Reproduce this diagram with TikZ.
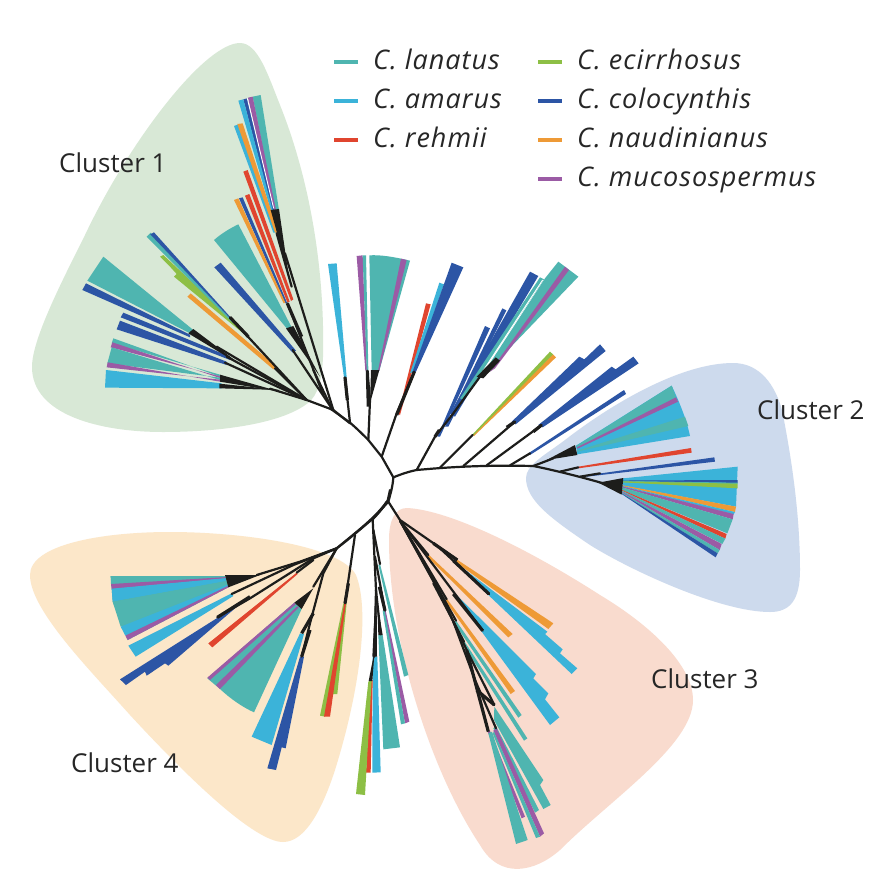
\documentclass[tikz,border=0pt]{standalone}
\usepackage{fontspec}
\setmainfont{Open Sans}
\usetikzlibrary{calc}
\definecolor{cT}{HTML}{4FB5B0}
\definecolor{cA}{HTML}{3BB3D9}
\definecolor{cR}{HTML}{E0452F}
\definecolor{cG}{HTML}{8DBF45}
\definecolor{cB}{HTML}{2C55A5}
\definecolor{cO}{HTML}{EE9A36}
\definecolor{cP}{HTML}{9B5BA5}
\definecolor{cK}{HTML}{1D1D1B}
\definecolor{bgG}{HTML}{D8E8D6}
\definecolor{bgB}{HTML}{CDDAED}
\definecolor{bgS}{HTML}{F9DBCE}
\definecolor{bgY}{HTML}{FCE7C9}
\tikzset{
 zA/.style={shift={(30,40)},scale=0.33333},
 zB/.style={shift={(320,240)},scale=0.33333},
 zC/.style={shift={(100,490)},scale=0.33333},
 zD/.style={shift={(340,490)},scale=0.33333},
 br/.style={draw=cK,line width=2.2pt,line join=round,line cap=round},
 brt/.style={draw=cK,line width=3.2pt,line join=round},
 tk/.style={fill=cK},
 gap/.style={draw=white,line width=0.9pt},
 lbl/.style={font=\fontsize{26}{30}\selectfont,text=black!85,inner sep=0pt,anchor=base west},
 leg/.style={font=\fontsize{27}{30}\selectfont\itshape\addfontfeature{LetterSpace=3.7},text=black!85,inner sep=0pt,anchor=base west},
 key/.style={line width=4pt}
}
\begin{document}
\begin{tikzpicture}[x=1pt,y=-1pt]
\useasboundingbox (0,0) rectangle (891,868);
\fill[white] (0,0) rectangle (891,868);
% cluster backgrounds
\fill[bgG] (240,43) .. controls (258,43) and (268,75) .. (280,105) .. controls (310,180) and (325,270) .. (323,357) .. controls (322,380) and (318,395) .. (308,403) .. controls (280,425) and (215,432) .. (163,432) .. controls (100,432) and (32,415) .. (32,367) .. controls (32,340) and (60,285) .. (85,235) .. controls (130,140) and (205,43) .. (240,43) -- cycle;
\fill[bgB] (526,478) .. controls (526,465) and (545,455) .. (565,440) .. controls (610,405) and (680,363) .. (733,363) .. controls (760,363) and (775,385) .. (782,410) .. controls (790,450) and (800,510) .. (800,570) .. controls (800,600) and (790,612) .. (770,612) .. controls (720,612) and (630,570) .. (590,545) .. controls (550,518) and (526,500) .. (526,478) -- cycle;
\fill[bgS] (407,508) .. controls (450,510) and (530,550) .. (600,595) .. controls (650,625) and (693,665) .. (693,700) .. controls (693,745) and (610,800) .. (560,850) .. controls (535,872) and (500,880) .. (480,845) .. controls (430,770) and (389,640) .. (389,540) .. controls (389,520) and (395,508) .. (407,508) -- cycle;
\fill[bgY] (30,575) .. controls (30,545) and (100,532) .. (170,532) .. controls (240,532) and (340,545) .. (356,575) .. controls (370,610) and (360,690) .. (335,770) .. controls (322,810) and (305,842) .. (283,842) .. controls (255,842) and (190,780) .. (130,715) .. controls (90,670) and (30,610) .. (30,575) -- cycle;
% labels
\node[lbl] (c1) at (59,172) {Cluster 1};
\node[lbl] (c2) at (757,419) {Cluster 2};
\node[lbl] (c3) at (651,688) {Cluster 3};
\node[lbl] (c4) at (71,772) {Cluster 4};
% legend
\draw[key,cT] (334,62) -- (358,62);
\draw[key,cA] (334,101) -- (358,101);
\draw[key,cR] (334,140) -- (358,140);
\draw[key,cG] (538,62) -- (562,62);
\draw[key,cB] (538,101) -- (562,101);
\draw[key,cO] (538,140) -- (562,140);
\draw[key,cP] (538,179) -- (562,179);
\node[leg] (l1) at (373,69) {C. lanatus};
\node[leg] (l2) at (373,108) {C. amarus};
\node[leg] (l3) at (373,147) {C. rehmii};
\node[leg] (l4) at (577,69) {C. ecirrhosus};
\node[leg] (l5) at (577,108) {C. colocynthis};
\node[leg] (l6) at (577,147) {C. naudinianus};
\node[leg] (l7) at (577,186) {C. mucosospermus};
%%%%% cluster 1
\begin{scope}[zA]
\fill[cT] (736,510) -- (668,170) -- (692,165) -- (747,510) -- cycle;
\fill[cP] (731,510) -- (654,173) -- (668,170) -- (738,510) -- cycle;
\fill[cB] (726,510) -- (640,178) -- (652,175) -- (732,510) -- cycle;
\fill[cA] (722,510) -- (625,182) -- (640,178) -- (728,510) -- cycle;
\draw[gap] (652,175) -- (731,505);
\fill[cA] (730,578) -- (612,258) -- (625,253) -- (738,578) -- cycle;
\fill[cO] (735,578) -- (622,252) -- (638,250) -- (745,578) -- cycle;
\fill[cR] (783,783) -- (640,395) -- (653,390) -- (790,778) -- cycle;
\fill[cR] (772,787) -- (645,467) -- (658,462) -- (779,785) -- cycle;
\fill[cB] (766,790) -- (627,475) -- (638,472) -- (771,788) -- cycle;
\fill[cO] (761,790) -- (612,480) -- (625,475) -- (766,788) -- cycle;
\fill[cT] (770,865) -- (552,600) .. controls (575,580) and (600,565) .. (625,553) -- (785,862) -- cycle;
\fill[cB] (788,938) -- (553,682) -- (572,668) -- (798,932) -- cycle;
\fill[cO] (730,988) -- (472,770) -- (482,760) -- (740,980) -- cycle;
\fill[cG] (670,905) -- (432,710) -- (440,702) -- (420,680) -- (390,650) -- (400,645) -- (640,870) -- cycle;
\fill[cT] (610,850) -- (350,590) -- (362,578) -- (600,835) -- cycle;
\fill[cB] (610,845) -- (361,583) -- (372,577) -- (600,830) -- cycle;
\fill[cT] (480,880) -- (172,722) -- (220,650) -- (490,870) -- cycle;
\fill[cB] (480,892) -- (157,750) -- (168,730) -- (480,884) -- cycle;
\fill[cB] (600,960) -- (272,832) -- (280,818) -- (600,950) -- cycle;
\fill[cB] (590,975) -- (260,868) -- (270,842) -- (590,965) -- cycle;
\fill[cT] (570,1004) -- (245,910) -- (250,895) -- (570,1010) -- cycle;
\fill[cP] (570,1009) -- (242,922) -- (247,907) -- (570,1014) -- cycle;
\fill[cT] (570,1013) -- (232,970) -- (245,922) -- (570,1020) -- cycle;
\fill[cP] (570,1019) -- (230,982) -- (233,967) -- (570,1025) -- cycle;
\fill[cA] (575,1045) -- (225,1043) -- (228,990) -- (575,1030) -- cycle;
% black
\fill[tk] (722,510) -- (747,507) -- (775,700) -- cycle;
\draw[br] (765,640) -- (910,1110);
\draw[br] (740,580) -- (785,740);
\draw[br] (772,790) -- (880,1065);
\draw[brt] (772,790) -- (815,890);
\fill[tk] (768,865) -- (790,858) -- (870,1010) -- cycle;
\draw[br] (850,990) -- (905,1105);
\draw[br] (788,930) -- (905,1105);
\draw[br] (600,832) -- (830,1080);
\draw[brt] (600,832) -- (655,890);
\draw[br] (830,1080) -- (910,1110) -- (960,1150);
\draw[br] (735,985) -- (830,1080);
\fill[tk] (475,880) -- (490,867) -- (640,980) -- cycle;
\draw[br] (560,920) -- (830,1080);
\draw[br] (590,950) -- (830,1080);
\draw[br] (585,968) -- (830,1080);
\fill[tk] (570,1004) -- (570,1025) -- (750,1055) -- cycle;
\fill[tk] (568,1031) -- (568,1045) -- (750,1050) -- cycle;
\draw[br] (830,1080) -- (720,1046);
\end{scope}
%%%%% top + cluster 2
\begin{scope}[zB]
\fill[cA] (72,412) -- (24,72) -- (50,70) -- (80,412) -- cycle;
\fill[cP] (136,392) -- (110,48) -- (128,46) -- (141,392) -- cycle;
\fill[cT] (140,392) -- (128,46) -- (138,46) -- (145,392) -- cycle;
\fill[cT] (155,392) -- (148,46) .. controls (180,44) and (220,50) .. (270,62) -- (178,392) -- cycle;
\fill[cP] (174,392) -- (243,56) -- (260,60) -- (178,392) -- cycle;
\fill[cR] (235,520) -- (318,190) -- (332,193) -- (240,525) -- cycle;
\fill[cA] (270,400) -- (358,128) -- (372,133) -- (280,395) -- cycle;
\fill[cB] (276,400) -- (395,68) -- (430,82) -- (288,395) -- cycle;
\fill[cB] (352,590) -- (495,258) -- (510,265) -- (360,590) -- cycle;
\fill[cB] (375,560) -- (547,205) -- (559,211) -- (385,560) -- cycle;
\fill[cB] (390,520) -- (630,95) -- (655,108) -- (405,530) -- cycle;
\fill[cT] (420,475) -- (660,112) -- (672,118) -- (430,480) -- cycle;
\fill[cT] (490,400) -- (675,115) -- (715,65) -- (775,110) -- (535,360) -- cycle;
\fill[cP] (510,395) -- (735,80) -- (747,90) -- (525,385) -- cycle;
\draw[gap] (445,460) -- (668,120);
\fill[cO] (458,585) -- (698,342) -- (708,352) -- (462,588) -- cycle;
\fill[cG] (458,583) -- (690,335) -- (699,343) -- (460,586) -- cycle;
\fill[cB] (575,545) -- (778,350) -- (793,358) -- (840,313) -- (857,333) -- (587,553) -- cycle;
\fill[cB] (655,555) -- (875,380) -- (887,388) -- (940,350) -- (956,370) -- (668,562) -- cycle;
\fill[cB] (625,640) -- (912,450) -- (918,462) -- (630,645) -- cycle;
% cluster 2 upper fan
\fill[cA] (768,617) -- (1055,437) .. controls (1080,490) and (1100,540) .. (1110,588) -- (772,643) -- cycle;
\fill[cT] (770,617) -- (1055,437) -- (1068,472) -- (772,625) -- cycle;
\fill[cP] (771,622) -- (1068,472) -- (1074,485) -- (772,626) -- cycle;
\fill[cT] (772,632) -- (1095,530) -- (1105,558) -- (772,635) -- cycle;
\fill[cR] (775,680) -- (1113,624) -- (1115,638) -- (775,685) -- cycle;
\fill[cB] (800,706) -- (1183,652) -- (1185,665) -- (800,710) -- cycle;
% lower fan
\coordinate (B0) at (910,715);
\coordinate (B1) at (905,762);
\newcommand\fan[5]{\fill[#1] ($(B0)!#2!(B1)$) -- #4 -- #5 -- ($(B0)!#3!(B1)$) -- cycle;}
\fan{cA}{0}{.46}{(1253,680)}{(1248,800)}
\fan{cB}{.14}{.18}{(1253,720)}{(1253,729)}
\fan{cT}{.17}{.2}{(1253,728)}{(1253,732)}
\fan{cG}{.19}{.26}{(1253,731)}{(1253,745)}
\fan{cO}{.44}{.5}{(1248,800)}{(1245,816)}
\fan{cA}{.49}{.53}{(1245,816)}{(1241,823)}
\fan{cP}{.52}{.59}{(1241,822)}{(1238,838)}
\fan{cT}{.58}{.75}{(1238,838)}{(1222,880)}
\fan{cR}{.74}{.8}{(1220,882)}{(1216,896)}
\fan{cT}{.79}{.86}{(1216,896)}{(1207,912)}
\fan{cP}{.85}{.92}{(1205,912)}{(1199,930)}
\fan{cT}{.91}{.97}{(1199,930)}{(1193,940)}
\fan{cB}{.96}{1}{(1193,940)}{(1187,952)}
% backbone
\draw[br] (30,505) -- (90,548) .. controls (110,565) and (130,585) .. (145,600) -- (185,650) -- (220,712) .. controls (245,702) and (265,695) .. (290,690) .. controls (400,680) and (500,675) .. (640,678) .. controls (700,690) and (780,710) .. (850,730);
\draw[br] (220,712) .. controls (218,740) and (212,760) .. (205,785) -- (160,835) .. controls (130,860) and (90,895) .. (50,925);
\draw[br] (90,548) -- (75,412);
\draw[brt] (75,412) -- (82,480);
\draw[br] (145,600) -- (150,480) -- (142,392);
\draw[brt] (142,392) -- (145,500);
\fill[tk] (153,390) -- (178,390) -- (150,490) -- cycle;
\draw[br] (185,650) -- (230,520) -- (283,395);
\draw[brt] (230,525) -- (283,395);
\draw[br] (290,690) -- (345,590) -- (400,520) -- (480,410);
\fill[tk] (470,410) -- (527,352) -- (540,362) -- (490,415) -- cycle;
\draw[brt] (345,590) -- (358,570);
\draw[br] (360,683) -- (458,585);
\draw[br] (430,678) -- (585,545);
\draw[brt] (560,562) -- (585,545);
\draw[br] (500,676) -- (665,555);
\draw[brt] (640,575) -- (665,555);
\draw[br] (570,676) -- (630,640);
\draw[br] (640,678) -- (700,655);
\fill[tk] (680,660) -- (765,615) -- (772,645) -- cycle;
\draw[br] (720,695) -- (775,682);
\draw[br] (780,710) -- (840,700);
\fill[tk] (835,728) -- (910,714) -- (905,764) -- cycle;
\end{scope}
%%%%% cluster 4
\begin{scope}[zC]
\coordinate (F0) at (375,258);
\coordinate (F1) at (385,292);
\newcommand\ffan[5]{\fill[#1] ($(F0)!#2!(F1)$) -- #4 -- #5 -- ($(F0)!#3!(F1)$) -- cycle;}
\fill[cT] (F0) -- (32,258) -- (38,335) -- (83,450) -- (F1) -- cycle;
\ffan{cT}{0}{.12}{(32,258)}{(33,282)}
\ffan{cP}{.1}{.2}{(33,282)}{(35,297)}
\ffan{cA}{.19}{.45}{(35,296)}{(38,335)}
\ffan{cT}{.44}{.78}{(38,335)}{(62,410)}
\ffan{cA}{.76}{.9}{(62,410)}{(76,437)}
\ffan{cP}{.88}{1}{(76,437)}{(83,450)}
\fill[cA] (395,310) -- (85,467) -- (107,500) -- (400,318) -- cycle;
\fill[cB] (350,385) -- (60,568) -- (78,585) -- (135,545) -- (140,557) -- (195,520) -- (205,527) -- (440,325) -- cycle;
\fill[cR] (590,248) -- (325,460) -- (337,472) -- (593,252) -- cycle;
\fill[cT] (583,338) -- (322,565) -- (360,597) .. controls (390,625) and (425,650) .. (462,667) -- (605,357) -- cycle;
\fill[cP] (583,338) -- (322,563) -- (330,570) -- (587,343) -- cycle;
\fill[cP] (591,349) -- (348,585) -- (360,597) -- (596,352) -- cycle;
\fill[cA] (600,430) -- (612,432) -- (515,765) -- (455,740) -- cycle;
\fill[cB] (600,500) -- (612,500) -- (557,775) -- (545,772) -- (528,840) -- (502,835) -- cycle;
\fill[cG] (730,340) -- (740,340) -- (712,612) -- (700,612) -- (675,680) -- (660,677) -- cycle;
\fill[cR] (733,340) -- (738,340) -- (690,680) -- (672,680) -- cycle;
% black
\draw[br] (860,35) .. controls (830,80) and (770,125) .. (710,175) -- (600,215) -- (470,255);
\fill[tk] (375,255) -- (385,292) -- (480,255) -- cycle;
\draw[br] (710,175) -- (580,225) -- (395,312);
\draw[br] (710,175) -- (640,205) -- (450,325) -- (352,382);
\draw[brt] (352,382) -- (450,320);
\draw[br] (640,210) -- (590,248);
\draw[br] (710,175) -- (640,290);
\fill[tk] (583,338) -- (605,357) -- (640,295) -- cycle;
\draw[br] (710,175) -- (670,250) -- (630,400) -- (605,500);
\draw[brt] (640,370) -- (605,430);
\draw[brt] (630,420) -- (605,500);
\draw[br] (765,135) -- (735,340);
\draw[brt] (745,280) -- (735,340);
\end{scope}
%%%%% cluster 3 and lower middle
\begin{scope}[zD]
\fill[cO] (350,208) -- (640,400) -- (625,417) -- (345,215) -- cycle;
\fill[cA] (352,222) -- (622,425) -- (615,432) -- (668,478) -- (660,490) -- (712,535) -- (695,552) -- (445,315) -- cycle;
\fill[cO] (268,196) -- (518,432) -- (505,442) -- (262,200) -- cycle;
\fill[cA] (350,315) -- (588,552) -- (580,565) -- (625,610) -- (615,628) -- (658,682) -- (630,705) -- (425,425) -- cycle;
\fill[cO] (322,328) -- (525,603) -- (512,612) -- (316,332) -- cycle;
\fill[cT] (348,392) -- (545,675) -- (535,683) -- (342,398) -- cycle;
\fill[cT] (372,452) -- (562,745) -- (552,752) -- (366,458) -- cycle;
\fill[cT] (463,650) -- (610,870) -- (600,885) -- (632,945) -- (610,957) -- (462,690) -- cycle;
\fill[cT] (468,708) -- (597,960) -- (585,968) -- (460,715) -- cycle;
\fill[cP] (470,715) -- (612,1030) -- (600,1040) -- (460,722) -- cycle;
\fill[cT] (462,725) -- (600,1040) -- (588,1044) -- (458,730) -- cycle;
\fill[cP] (450,722) -- (555,980) -- (545,985) -- (443,725) -- cycle;
\fill[cT] (445,730) -- (456,725) -- (563,1050) -- (528,1062) -- cycle;
% lower middle
\fill[cT] (115,225) -- (120,222) -- (205,555) -- (192,560) -- cycle;
\fill[cP] (132,362) -- (137,362) -- (208,695) -- (195,700) -- cycle;
\fill[cT] (128,362) -- (134,362) -- (195,700) -- (183,703) -- cycle;
\fill[cT] (115,435) -- (128,435) -- (180,772) -- (130,778) -- cycle;
\fill[cA] (98,500) -- (112,500) -- (122,847) -- (97,848) -- cycle;
\fill[cR] (92,570) -- (98,570) -- (92,848) -- (78,848) -- cycle;
\fill[cG] (85,575) -- (95,570) -- (75,915) -- (48,912) -- cycle;
% black: cluster 3
\draw[br] (150,0) -- (143,32);
\draw[br] (143,32) .. controls (125,60) and (110,75) .. (98,88);
\draw[br] (143,32) -- (180,90) -- (350,208);
\draw[brt] (280,160) -- (352,210);
\draw[br] (300,175) -- (447,312);
\draw[brt] (340,212) -- (447,312);
\draw[br] (180,92) -- (265,195);
\draw[br] (180,92) -- (428,422);
\draw[brt] (340,312) -- (428,422);
\draw[br] (180,92) -- (320,328);
\draw[br] (180,92) -- (348,392);
\draw[br] (280,280) -- (372,455);
\draw[br] (180,92) -- (300,310) -- (380,480) -- (463,645);
\draw[br] (340,395) -- (405,570) -- (468,715);
\draw[brt] (380,480) -- (445,725);
\draw[brt] (410,600) -- (463,645);
% black: lower middle
\draw[br] (98,88) -- (108,300) -- (103,500);
\fill[tk] (97,500) -- (111,500) -- (110,340) -- (105,340) -- cycle;
\draw[br] (100,120) -- (120,222);
\draw[br] (105,200) -- (135,362);
\draw[brt] (118,290) -- (135,362);
\draw[br] (108,300) -- (122,433);
\fill[tk] (115,435) -- (128,435) -- (112,340) -- cycle;
\fill[tk] (86,573) -- (97,573) -- (104,480) -- cycle;
\end{scope}
\end{tikzpicture}
\end{document}
